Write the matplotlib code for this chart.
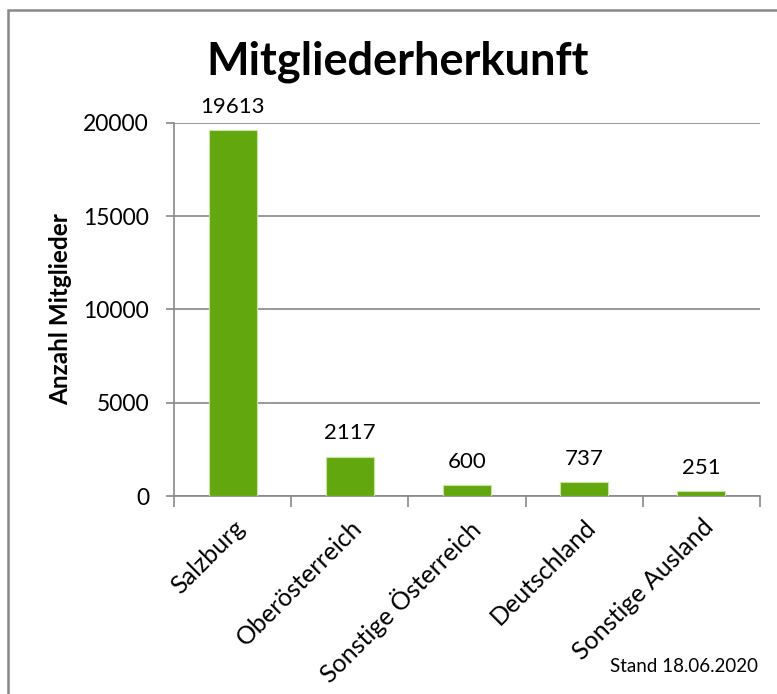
import matplotlib.pyplot as plt
from matplotlib.patches import Rectangle

# Mitgliederzahlen nach Herkunft
regionen = ["Salzburg", "Oberösterreich", "Sonstige Österreich", "Deutschland", "Sonstige Ausland"]
mitglieder = [19613, 2117, 600, 737, 251]
y_ticks = [0, 5000, 10000, 15000, 20000]

plt.rcParams['font.family'] = ['Lato', 'DejaVu Sans']

fig = plt.figure(figsize=(7.77, 6.94), dpi=100)
ax = fig.add_axes([0.224, 0.2853, 0.754, 0.5375])

x = range(len(regionen))
bars = ax.bar(x, mitglieder, width=0.41, color='#63A70F', edgecolor='#C8E6A0', linewidth=0.8, zorder=3)
for b, v in zip(bars, mitglieder):
    ax.text(b.get_x() + b.get_width() / 2, v + 700, str(v), ha='center', va='bottom', fontsize=16)

ax.set_xlim(-0.5, len(regionen) - 0.5)
ax.set_ylim(0, 20000)
ax.set_yticks(y_ticks)
ax.tick_params(axis='y', labelsize=16.5, length=6, color='#888888', width=1.2, pad=12)
ax.yaxis.grid(True, color='#888888', linewidth=1.2, zorder=0)

# Striche an den Kategoriegrenzen, Beschriftungen mittig
ax.set_xticks([i - 0.5 for i in range(len(regionen) + 1)])
ax.set_xticklabels([])
ax.set_xticks(list(x), minor=True)
ax.set_xticklabels(regionen, minor=True, rotation=45, ha='right', rotation_mode='anchor', fontsize=18)
ax.tick_params(axis='x', which='major', length=8, color='#888888', width=1.2)
ax.tick_params(axis='x', which='minor', length=0, pad=14)

for s in ['top', 'right']:
    ax.spines[s].set_visible(False)
for s in ['left', 'bottom']:
    ax.spines[s].set_color('#888888')
    ax.spines[s].set_linewidth(1.2)

ax.set_ylabel("Anzahl Mitglieder", fontsize=17.5, fontweight='bold', labelpad=8)
fig.text(0.512, 0.911, "Mitgliederherkunft", ha='center', va='center', fontsize=32.5, fontweight='bold')
fig.text(0.975, 0.04, "Stand 18.06.2020", ha='right', va='center', fontsize=13.5)

# Rahmen um das Diagramm
fig.patches.append(Rectangle((8 / 777, -0.05), 1.2, 1 - 10 / 694 + 0.05, transform=fig.transFigure,
                             fill=False, edgecolor='#888888', linewidth=1.8))

fig.savefig("out.png", dpi=100)
